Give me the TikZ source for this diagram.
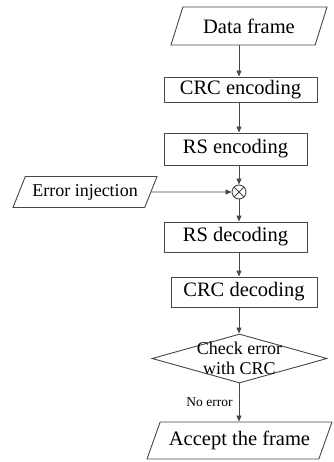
\documentclass[tikz,border=0pt]{standalone}
\usepackage{fontspec}
\setmainfont{Liberation Serif}
\usetikzlibrary{shapes.geometric,arrows.meta}
\begin{document}
\begin{tikzpicture}[x=1pt,y=-1pt,
  edgecol/.style={draw=black!72, line width=0.9pt},
  arr/.style={edgecol, -{Triangle[length=6pt,width=5pt]}},
  procbox/.style={edgecol, rectangle, inner sep=0pt, font=\fontsize{20.5}{24}\selectfont},
  iobox/.style={edgecol, trapezium, trapezium stretches body, inner sep=0pt},
  bigtext/.style={font=\fontsize{20.5}{24}\selectfont},
  smalltext/.style={font=\fontsize{18}{20}\selectfont},
]
\useasboundingbox (0,0) rectangle (333,462);

\node[iobox, bigtext, trapezium left angle=51, trapezium right angle=129,
      minimum width=156pt, minimum height=38pt] (data) at (249,26) {Data frame};
\node[procbox, minimum width=153pt, minimum height=25pt] (crcenc) at (240.5,89.5) {CRC encoding};
\node[procbox, minimum width=143pt, minimum height=32pt] (rsenc) at (235.5,149) {RS encoding};
\node[edgecol, circle, minimum size=14pt, inner sep=0pt,
      path picture={\draw[black!72, line width=0.8pt]
        (path picture bounding box.north west) -- (path picture bounding box.south east)
        (path picture bounding box.north east) -- (path picture bounding box.south west);}]
      (mix) at (239,192) {};
\node[iobox, smalltext, trapezium left angle=52, trapezium right angle=128,
      minimum width=144pt, minimum height=31pt] (errinj) at (85,192) {Error injection};
\node[procbox, minimum width=143pt, minimum height=30pt] (rsdec) at (235.5,237) {RS decoding};
\node[procbox, minimum width=146pt, minimum height=30pt] (crcdec) at (244,292) {CRC decoding};
\node[edgecol, diamond, minimum width=175pt, minimum height=49pt, inner sep=0pt,
      label={[smalltext, align=center, inner sep=0pt]center:Check error\\with CRC}]
      (check) at (239.5,358.5) {};
\node[iobox, bigtext, trapezium left angle=55, trapezium right angle=125,
      minimum width=185pt, minimum height=37pt] (accept) at (239.5,440.5) {Accept the frame};

\draw[arr] (data.south -| mix) -- (crcenc.north -| mix);
\draw[arr] (crcenc.south -| mix) -- (rsenc.north -| mix);
\draw[arr] (rsenc.south -| mix) -- (mix.north);
\draw[arr] (errinj.east) -- (mix.west);
\draw[arr] (mix.south) -- (rsdec.north -| mix);
\draw[arr] (rsdec.south -| mix) -- (crcdec.north -| mix);
\draw[arr] (crcdec.south -| mix) -- (check.north -| mix);
\draw[arr] (check.south -| mix) -- node[midway, left, inner sep=6pt, font=\fontsize{13.5}{15}\selectfont] (noerr) {No error} (accept.north -| mix);
\end{tikzpicture}
\end{document}
